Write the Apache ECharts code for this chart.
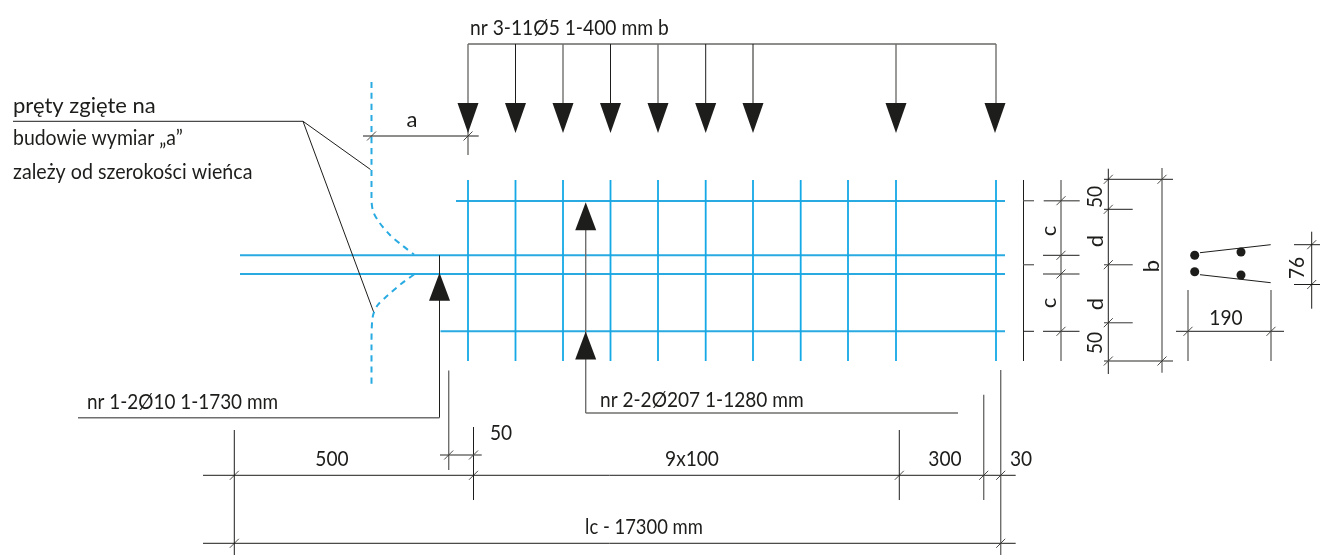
<!DOCTYPE html>
<html><head><meta charset="utf-8">
<style>html,body{margin:0;padding:0;background:#fff}#c{width:1320px;height:555px}</style>
<script src="https://cdn.jsdelivr.net/npm/echarts@6/dist/echarts.min.js"></script>
</head><body><div id="c"></div>
<script>
// Drawing units: the axes run 0-1320 and 0-555, y downward.
const barVerticalX = [468,515.5,563,610.5,658,705.7,753,800.7,848,896,996];
const barVerticalSpan = [180,361];
const barHorizontals = [[456,1005,201],[240,1005,255.3],[240,1005,274],[440.5,1005,331.3]];
const bentBars = [
  [[371.5,82],[371.5,160],[371.5,198],[373,211],[379,222],[390,235],[403,246],[414,254.5]],
  [[414,274.5],[401,284],[387,296],[377,306],[372.5,318],[371.5,345],[371.5,384]]
];
const blackLines = [
  [[515.5,44],[515.5,103]],[[610.5,44],[610.5,103]],[[705.7,44],[705.7,103]],[[753,44],[753,103]],
  [[468,44],[996,44]],
  [[13,121.3],[303,121.3],[370.5,169.5]],[[303,121.3],[374,313]],
  [[363,136],[478.7,136]],
  [[439.5,255.3],[439.5,417.7]],
  [[203,475.3],[1015.7,475.3]],[[203,543.3],[1015.7,543.3]],
  [[234.3,430],[234.3,555]],[[473.5,427],[473.5,500]],[[899.3,430],[899.3,500]],
  [[1023.5,180],[1023.5,361]],[[1023.5,331.3],[1034,331.3]],
  [[1043,255.3],[1079.5,255.3]],[[1043,331.3],[1079.5,331.3]],
  [[1108.3,168.7],[1108.3,374]],[[1104,179.3],[1173,179.3]],[[1104,209.3],[1132.7,209.3]],
  [[1200,252.7],[1270.7,244.7]],[[1200,274.7],[1270.7,282.7]],
  [[1176,331.3],[1284,331.3]],[[1311.7,231.7],[1311.7,308.7]],
  [[1294,244.7],[1320,244.7]],[[1294,284.5],[1320,284.5]]
];
const greyLines = [
  [[468,44],[468,155]],[[563,44],[563,103]],[[658,44],[658,103]],[[896,44],[896,103]],[[996,44],[996,103]],
  [[78,417.7],[439.5,417.7]],
  [[585.7,230],[585.7,413]],[[585.7,413],[958,413]],
  [[448.7,370.5],[448.7,470]],[[440,455],[481.7,455]],
  [[983.7,394.7],[983.7,500]],[[1000.7,370],[1000.7,555]],
  [[1023.5,200.7],[1034,200.7]],[[1023.5,264.7],[1034,264.7]],
  [[1061,180],[1061,361]],[[1043.7,200.7],[1079.7,200.7]],[[1043,274],[1079.5,274]],
  [[1104,264.7],[1132.7,264.7]],[[1104,322.7],[1132.7,322.7]],[[1104,361],[1173,361]],
  [[1162,168],[1162,372.7]],[[1188,290],[1188,361]],[[1271,290],[1271,361]]
];
const dimensionTicks = [
  [371.5,136],[468,136],[234.3,475.3],[473.5,475.3],[899.3,475.3],[983.7,475.3],[1000.7,475.3],
  [234.3,543.3],[1000.7,543.3],[448.7,455],[473.5,455],
  [1061,200.7],[1061,255.3],[1061,274],[1061,331.3],
  [1108.3,179.3],[1108.3,209.3],[1108.3,264.7],[1108.3,322.7],[1108.3,361],[1162,179.3],[1162,361],
  [1188,331.3],[1271,331.3],[1311.7,244.7],[1311.7,284.5]
];
const downArrows = [[468,118],[515.5,118],[563,118],[610.5,118],[658,118],[705.7,118],[753,118],[896,118],[995,118]];
const upArrows = [[439.5,286.7],[585.7,216.2],[585.7,345.5]];
const rebarDots = [[1194.7,255.3],[1241,252],[1194.7,271.7],[1241,275]];
const labelTexts = ['nr 3-11Ø5 1-400 mm b','pręty zgięte na','budowie wymiar „a”','zależy od szerokości wieńca','a',
  'nr 1-2Ø10 1-1730 mm','nr 2-2Ø207 1-1280 mm','500','50','9x100','300','30','lc - 17300 mm',
  'c','c','50','d','d','50','b','190','76'];
const labelAnchors = [[470,28],[13,106],[13,138],[13,172],[412,120],
  [87,402],[600,400],[332,459],[501,433],[692,459],[945,459],[1021,459],[644,527],
  [1048.5,231],[1048.5,303],[1095,197],[1096,241],[1096,304],[1095,343],[1152,266],[1226,318],[1297,268]];

const INK='#1d1d1b', GREY='#6f6f6e', BLUE='#29abe2';
// widths squeezed to the condensed lettering of the reference
const labelScale = [.874,1,.883,.894,1,.86,.867,.87,.87,.87,.87,.87,.837,1,1,.87,1,1,.87,1,.87,.87];
const labelRotated = [13,14,15,16,17,18,19,21];
const labelLeft = [0,1,2,3,5,6];
const seg = (list)=>list.map(c=>({coords:c}));
const verticals = barVerticalX.map(x=>[[x,barVerticalSpan[0]],[x,barVerticalSpan[1]]]);
const horizontals = barHorizontals.map(b=>[[b[0],b[2]],[b[1],b[2]]]);
const slashes = dimensionTicks.map(t=>[[t[0]-4.5,t[1]+4.5],[t[0]+4.5,t[1]-4.5]]);
const lineSeries = (list,color,width)=>({type:'lines',coordinateSystem:'cartesian2d',polyline:true,silent:true,
  data:seg(list),lineStyle:{color,width,opacity:1,cap:'butt',join:'miter'},effect:{show:false}});
const series = [
  lineSeries(horizontals,BLUE,1.9),
  lineSeries(verticals,'#14a8e6',1.8),
  lineSeries(blackLines,INK,1),
  lineSeries(greyLines,GREY,1.4),
  lineSeries(slashes,INK,0.8)
];
bentBars.forEach(b=>series.push({type:'line',data:b,smooth:0.3,symbol:'none',silent:true,
  lineStyle:{color:BLUE,width:2,type:[6,5]}}));
series.push({type:'scatter',data:downArrows,symbol:'triangle',symbolRotate:180,symbolSize:[21,30],itemStyle:{color:INK,opacity:1},silent:true,z:5});
series.push({type:'scatter',data:upArrows,symbol:'triangle',symbolSize:[21,28],itemStyle:{color:INK,opacity:1},silent:true,z:5});
series.push({type:'scatter',data:rebarDots,symbol:'circle',symbolSize:9,itemStyle:{color:INK,opacity:1},silent:true,z:5});
series.push({type:'custom',coordinateSystem:'cartesian2d',silent:true,z:6,
  data:labelAnchors,
  encode:{x:0,y:1},
  renderItem:(p,api)=>{
    const i=p.dataIndex, a=labelAnchors[i], pt=api.coord(a);
    return {type:'text',x:pt[0],y:pt[1],originX:0,originY:0,scaleX:labelScale[i],
      rotation:labelRotated.includes(i)?Math.PI/2:0,
      style:{text:labelTexts[i],fill:INK,font:'22px Lato',
        textAlign:labelLeft.includes(i)?'left':'center',textVerticalAlign:'middle'}};
  }});

const chart=echarts.init(document.getElementById('c'),null,{renderer:'canvas'});
chart.setOption({animation:false,backgroundColor:'#fff',
  grid:{left:0,right:0,top:0,bottom:0},
  xAxis:{type:'value',min:0,max:1320,show:false},
  yAxis:{type:'value',min:0,max:555,inverse:true,show:false},
  series});
</script></body></html>
